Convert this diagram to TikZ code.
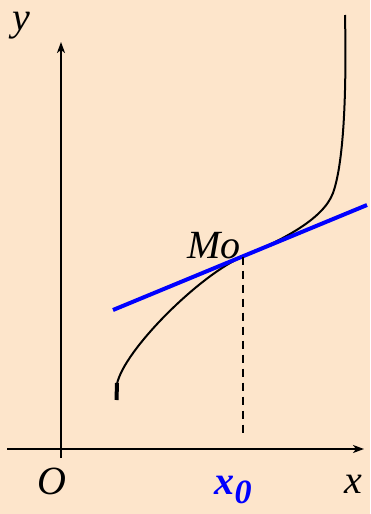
\documentclass[tikz,border=0pt]{standalone}
\usepackage{fontspec}
\setmainfont{Liberation Serif}
\usetikzlibrary{arrows.meta}
\definecolor{peach}{RGB}{253,229,203}

\begin{document}
\begin{tikzpicture}[x=1pt,y=-1pt,
  axis/.style={line width=1.6pt,-{Stealth[length=11pt,width=8pt,inset=3pt]}},
  lbl/.style={inner sep=0pt,font=\fontsize{40}{40}\selectfont\itshape}]

  % background
  \fill[peach] (0,0) rectangle (370,514);
  \useasboundingbox (0,0) rectangle (370,514);

  % axes
  \coordinate (O) at (61,449);
  \coordinate (xl) at (7,449);
  \coordinate (xr) at (364,449);
  \coordinate (yb) at (61,458);
  \coordinate (yt) at (61,42);
  \draw[axis] (xl) -- (xr);
  \draw[axis] (yb) -- (yt);

  % the curve
  \coordinate (M) at (243,256.5);
  \draw[line width=4pt] (116.5,400) -- (117,383);
  \draw[line width=2pt] (117,384) .. controls (124,350) and (200,274.5) .. (M)
    .. controls (280,241) and (323,220) .. (333,193)
    .. controls (342,168) and (347,110) .. (345,15);

  % tangent at Mo
  \coordinate (ta) at (113,310);
  \coordinate (tb) at (367,205);
  \draw[blue,line width=4pt] (ta) -- (tb);
  \coordinate (foot) at (243,433);
  \draw[line width=1.5pt,dash pattern=on 8pt off 6pt] (M) -- (foot);

  % labels
  \node[lbl] (ylab) at (21,26) {y};
  \node[lbl] (olab) at (52,481) {O};
  \node[lbl] (xlab) at (353,484) {x};
  \node[lbl] (mlab) at (214,246) {Mo};
  \node[lbl,blue,font=\fontsize{40}{40}\selectfont\bfseries\itshape] (x0lab) at (233,490)
    {x\raisebox{-9pt}{\fontsize{34}{34}\selectfont 0}};

\end{tikzpicture}
\end{document}
